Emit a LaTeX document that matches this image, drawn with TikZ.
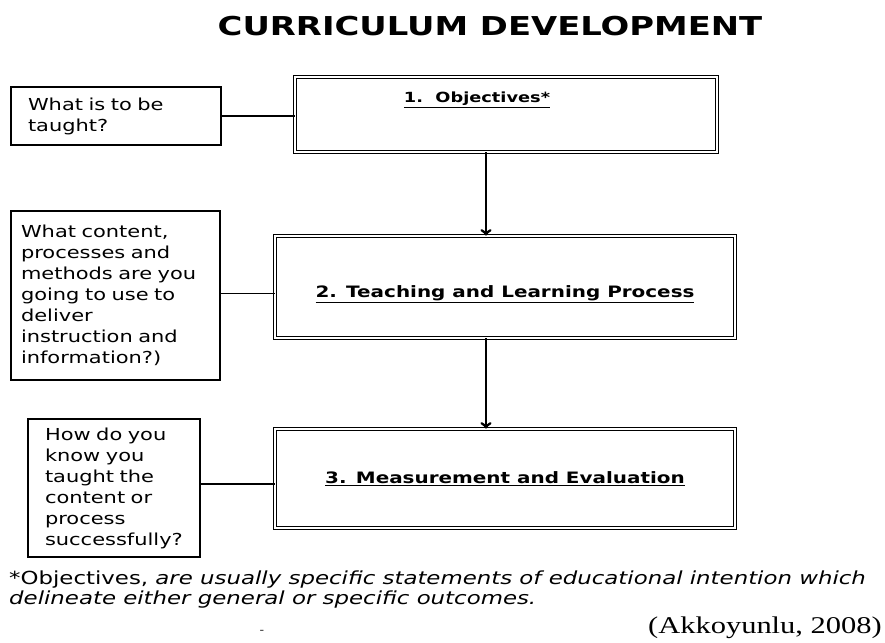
\documentclass[tikz,border=0pt]{standalone}
\usepackage{fontspec}
\setmainfont[FakeStretch=1.27]{DejaVu Sans}
\newfontfamily\headfont[FakeStretch=1.3]{DejaVu Sans}
\newfontfamily\citefont[FakeStretch=1.27]{Liberation Serif}
\usetikzlibrary{arrows,positioning}

\begin{document}
\begin{tikzpicture}[x=1pt, y=-1pt,
    question/.style={
        rectangle,
        draw,
        line width=1.3pt,
        align=left,
        font=\fontsize{16.5}{21}\selectfont
    },
    stage/.style={
        rectangle,
        draw,
        double,
        double distance=2pt,
        line width=0.9pt,
        font=\bfseries\fontsize{15.7}{19}\selectfont
    }]
    \useasboundingbox (0, 0) rectangle (885, 642);

    \node (title) [shift={(490, 26)}]
    {
        {\headfont\bfseries\fontsize{26}{30}\selectfont CURRICULUM DEVELOPMENT}
    };

    \node (objectives) [stage, minimum width=422pt, minimum height=75pt, shift={(506, 114.5)}] {};
    \node (objectives_text) [font=\bfseries\fontsize{14}{17}\selectfont, shift={(477, 100)}]
    {
        \underline{1.~~Objectives*}
    };
    \node (teaching) [stage, minimum width=460pt, minimum height=102pt, text height=24pt, text depth=4pt, shift={(505, 287)}]
    {
        \underline{2. Teaching and Learning Process}
    };
    \node (measurement) [stage, minimum width=460pt, minimum height=99pt, shift={(505, 478.5)}]
    {
        \underline{3. Measurement and Evaluation}
    };

    \node (taught_q) [question, minimum width=210pt, minimum height=58pt, inner xsep=17pt, text width=176pt, shift={(116, 116)}]
    {
        What is to be\\
        taught?
    };
    \node (content_q) [question, minimum width=209pt, minimum height=169pt, inner xsep=10pt, text width=189pt, shift={(115.5, 295.5)}]
    {
        What content,\\
        processes and\\
        methods are you\\
        going to use to\\
        deliver\\
        instruction and\\
        information?)
    };
    \node (success_q) [question, minimum width=172pt, minimum height=138pt, inner xsep=17pt, text width=138pt, shift={(114, 488)}]
    {
        How do you\\
        know you\\
        taught the\\
        content or\\
        process\\
        successfully?
    };

    \node (footnote) [anchor=west, align=left, inner sep=0pt, font=\fontsize{18}{20}\selectfont, shift={(9, 590)}]
    {
        *Objectives, \textit{are usually specific statements of educational intention which}\\
        \textit{delineate either general or specific outcomes.}
    };
    \node (dash) [inner sep=0pt, shift={(262, 632)}] {-};
    \node (source) [anchor=east, inner sep=0pt, font=\citefont\fontsize{24}{28}\selectfont, shift={(882, 628)}]
    {
        (Akkoyunlu, 2008)
    };

    \coordinate (spine) at (486, 0);
    \draw[->, line width=2.8pt] (objectives.south -| spine) to (teaching.north -| spine);
    \draw[->, line width=2.8pt] (teaching.south -| spine) to (measurement.north -| spine);

    \draw[line width=1.3pt] (taught_q.east) to (taught_q.east -| objectives.west);
    \draw[line width=1.3pt] ([yshift=2pt]content_q.east) to ([yshift=2pt]content_q.east -| teaching.west);
    \draw[line width=1.3pt] ([yshift=4pt]success_q.east) to ([yshift=4pt]success_q.east -| measurement.west);
\end{tikzpicture}
\end{document}
